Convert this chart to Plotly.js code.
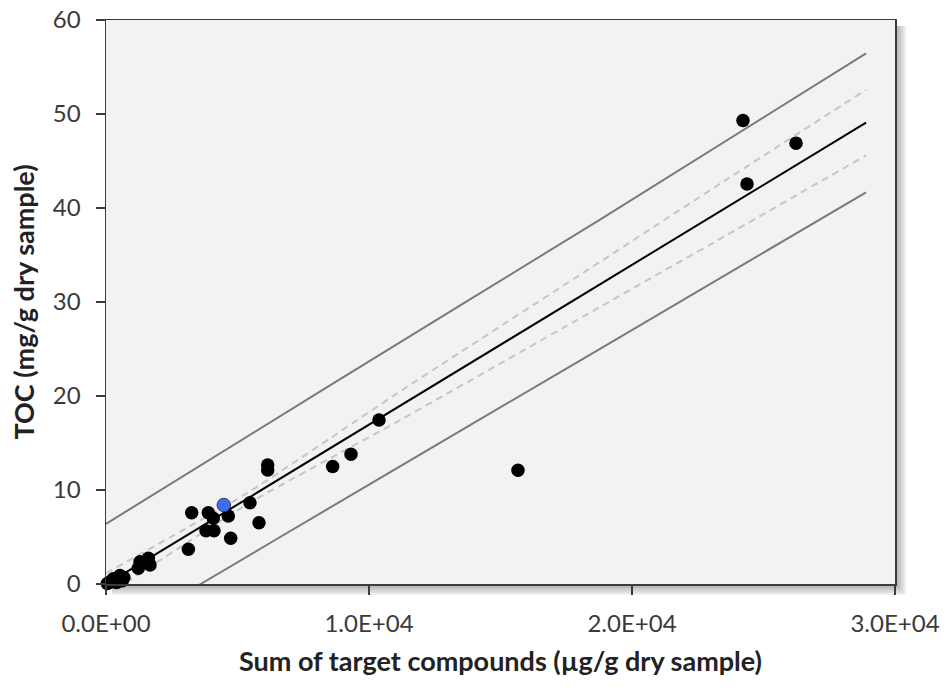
<!DOCTYPE html>
<html><head><meta charset="utf-8">
<script src="https://cdn.plot.ly/plotly-3.0.1.min.js"></script>
<style>html,body{margin:0;padding:0;background:#fff}#chart{width:948px;height:690px}</style>
</head><body><div id="chart"></div>
<script>
// Samples (sum of target compounds, TOC)
const sampleX = [50, 150, 280, 400, 530, 620, 680, 1229, 1293, 1610, 1673, 3131, 3258, 3802, 3890, 4080, 4106, 4650, 4741, 5475, 5817, 6148, 6148, 8619, 9316, 10380, 15665, 24220, 24373, 26236];
const sampleY = [0.05, 0.2, 0.55, 0.15, 0.9, 0.35, 0.7, 1.67, 2.37, 2.73, 2.02, 3.69, 7.59, 5.67, 7.59, 6.99, 5.67, 7.23, 4.86, 8.65, 6.52, 12.66, 12.13, 12.5, 13.8, 17.45, 12.1, 49.3, 42.55, 46.9];
// Highlighted sample
const highlightX = [4480];
const highlightY = [8.4];
// Regression line
const fitX = [0, 28900];
const fitY = [-0.05, 49.08];
// Prediction band (solid grey)
const predUpperX = [0, 8500, 18800, 28900];
const predUpperY = [6.4, 21.1, 38.8, 56.46];
const predLowerX = [0, 3600, 8500, 18800, 28900];
const predLowerY = [-5.95, 0, 8.1, 25.05, 41.67];
// Confidence band (dashed light grey)
const confX = [0, 3000, 5500, 8500, 11000, 13000, 18800, 23500, 28900];
const confUpperY = [1.15, 5.85, 9.9, 15.46, 20.15, 23.8, 34.3, 42.85, 52.58];
const confLowerY = [-1.25, 4.25, 8.7, 13.34, 17.15, 20.3, 29.5, 36.95, 45.6];
// Ticks
const xTickVals = [0, 10000, 20000, 30000];
const xTickText = ['0.0E+00', '1.0E+04', '2.0E+04', '3.0E+04'];
const yTickVals = [0, 10, 20, 30, 40, 50, 60];

const FONT = 'Lato, "Open Sans", sans-serif';
const traces = [
  {x: predUpperX, y: predUpperY, mode: 'lines', line: {color: '#7a7a7a', width: 2, shape: 'spline', smoothing: 0.5}, hoverinfo: 'skip'},
  {x: predLowerX, y: predLowerY, mode: 'lines', line: {color: '#7a7a7a', width: 2, shape: 'spline', smoothing: 0.5}, hoverinfo: 'skip'},
  {x: confX, y: confUpperY, mode: 'lines', line: {color: '#c6c6c6', width: 2, dash: '7px,5px', shape: 'spline', smoothing: 0.6}, hoverinfo: 'skip'},
  {x: confX, y: confLowerY, mode: 'lines', line: {color: '#c6c6c6', width: 2, dash: '7px,5px', shape: 'spline', smoothing: 0.6}, hoverinfo: 'skip'},
  {x: fitX, y: fitY, mode: 'lines', line: {color: '#000000', width: 2}},
  {x: sampleX, y: sampleY, mode: 'markers', cliponaxis: false, marker: {color: '#000000', size: 13.5, line: {color: '#000000', width: 0}}},
  {x: highlightX, y: highlightY, mode: 'markers', cliponaxis: false, marker: {color: '#3b6df5', size: 13.5, line: {color: '#3a3a3a', width: 1}}}
];

// soft shadow to the right of and below the plot area
const L = 106, R = 895, T = 20, B = 584;
const px = p => (p - L) / (R - L), py = p => (B - p) / (B - T);
const shapes = [];
for (let i = 0; i < 6; i++) {
  const d = 2 + i * 1.8;
  shapes.push({type: 'rect', xref: 'paper', yref: 'paper', x0: px(R), x1: px(R + d), y0: py(B + d), y1: py(T + 6),
    fillcolor: 'rgba(0,0,0,0.06)', line: {width: 0}, layer: 'below'});
  shapes.push({type: 'rect', xref: 'paper', yref: 'paper', x0: px(L + 6), x1: px(R), y0: py(B + d), y1: py(B),
    fillcolor: 'rgba(0,0,0,0.06)', line: {width: 0}, layer: 'below'});
}

const axisCommon = {
  showline: true, linecolor: '#3c3c3c', linewidth: 1.5, mirror: true,
  ticks: 'outside', ticklen: 9, tickwidth: 1.3, tickcolor: '#3c3c3c',
  showgrid: false, zeroline: false,
  tickfont: {family: FONT, size: 24, color: '#3a3a3a'}
};
const layout = {
  width: 948, height: 690,
  margin: {l: L, r: 948 - R, t: T, b: 690 - B},
  paper_bgcolor: '#ffffff', plot_bgcolor: '#f2f2f2',
  showlegend: false,
  shapes: shapes,
  xaxis: Object.assign({}, axisCommon, {
    range: [0, 30000], tickvals: xTickVals, ticktext: xTickText, ticklabelstandoff: 9,
    title: {text: '<b>Sum of target compounds (µg/g dry sample)</b>', font: {family: FONT, size: 27, color: '#222222'}, standoff: 16}
  }),
  yaxis: Object.assign({}, axisCommon, {
    range: [0, 60], tickvals: yTickVals, ticklabelstandoff: 10,
    title: {text: '<b>TOC (mg/g dry sample)</b>', font: {family: FONT, size: 27, color: '#222222'}, standoff: 10}
  })
};
Plotly.newPlot('chart', traces, layout, {displayModeBar: false, staticPlot: true});
</script></body></html>
